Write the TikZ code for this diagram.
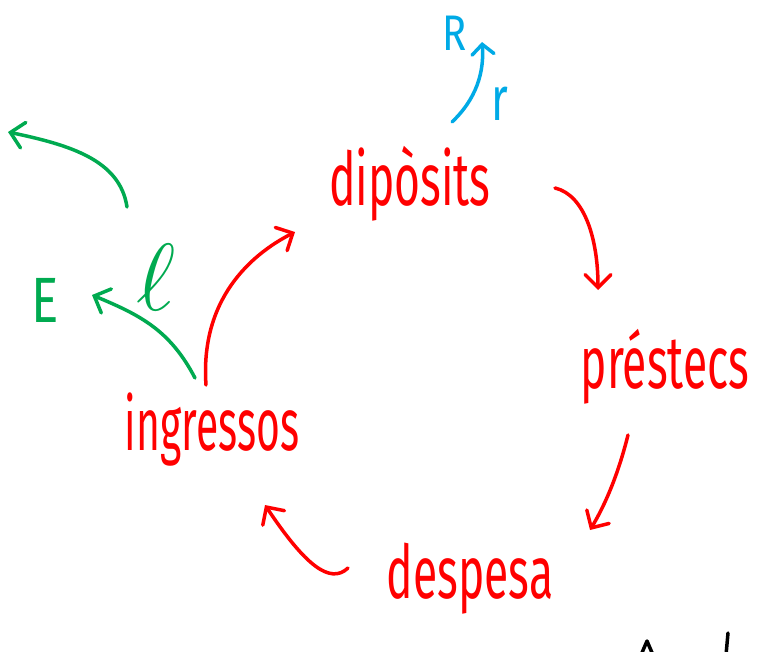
\documentclass[tikz,border=0pt]{standalone}
\usepackage{fontspec}
\usepackage{graphicx}
\setmainfont{Fira Sans}
\usetikzlibrary{arrows.meta}
\definecolor{hred}{RGB}{255,0,0}
\definecolor{hgreen}{RGB}{0,170,80}
\definecolor{hblue}{RGB}{0,170,230}
\begin{document}
\begin{tikzpicture}[x=1pt,y=-1pt,
  word/.style={text=hred, font=\fontsize{74}{74}\selectfont, xscale=0.6, inner sep=0pt, anchor=base},
  glabel/.style={text=hgreen, inner sep=0pt, anchor=base},
  blabel/.style={text=hblue, inner sep=0pt, anchor=base},
  pen/.style={line width=3.5pt, line cap=round, line join=round},
  flow/.style={pen, draw=hred, -{Straight Barb[length=13pt,width=26pt,line width=3.5pt,line cap=round]}},
  gflow/.style={flow, draw=hgreen},
  bflow/.style={pen, draw=hblue, -{Straight Barb[length=10pt,width=22pt,line width=3.5pt,line cap=round]}}]
\useasboundingbox (0,0) rectangle (765,651);
\fill[white] (0,0) rectangle (765,651);
% words
\node[word] (dip) at (410,205) {dipòsits};
\node[word] (pre) at (665,388) {préstecs};
\node[word] (des) at (470,598) {despesa};
\node[word, xscale=0.92] (ing) at (212,450) {ingressos};
\node[glabel, font=\fontsize{64}{64}\selectfont, xscale=0.8] (E) at (45,322) {E};
\node[glabel] (l) at (156,310) {\scalebox{4.6}{\fontsize{20}{20}\selectfont$\ell$}};
\node[blabel, font=\fontsize{50}{50}\selectfont, xscale=0.8] (R) at (455,50) {R};
\node[blabel, font=\fontsize{62}{62}\selectfont, xscale=0.7] (r) at (500,120) {r};
% connector end points
\coordinate (dipE) at (555,188);
\coordinate (preN) at (598,290);
\coordinate (preS) at (628,435);
\coordinate (desN) at (590,530);
\coordinate (desW) at (348,568);
\coordinate (ingE) at (265,505);
\coordinate (ingN) at (206,385);
\coordinate (dipW) at (295,232);
\coordinate (ingNW) at (195,378);
\coordinate (Eend) at (92,295);
\coordinate (lS) at (127,207);
\coordinate (far) at (8,132);
\coordinate (dipNE) at (452,122);
\coordinate (Rend) at (482,42);
% red cycle
\draw[flow] (dipE) .. controls (585,195) and (598,240) .. (preN);
\draw[flow] (preS) .. controls (618,475) and (605,505) .. (desN);
\draw[flow] (desW) .. controls (330,585) and (305,565) .. (ingE);
\draw[flow] (ingN) .. controls (200,300) and (250,255) .. (dipW);
% green
\draw[gflow] (ingNW) .. controls (170,330) and (140,315) .. (Eend);
\draw[gflow] (lS) .. controls (120,160) and (70,145) .. (far);
% blue
\draw[bflow] (dipNE) .. controls (470,105) and (485,80) .. (Rend);
% black partial strokes at the bottom edge
\draw[pen, draw=black] (641,655) -- (647,641) -- (653,655);
\draw[pen, draw=black] (728,633) -- (726,655);
\end{tikzpicture}
\end{document}
